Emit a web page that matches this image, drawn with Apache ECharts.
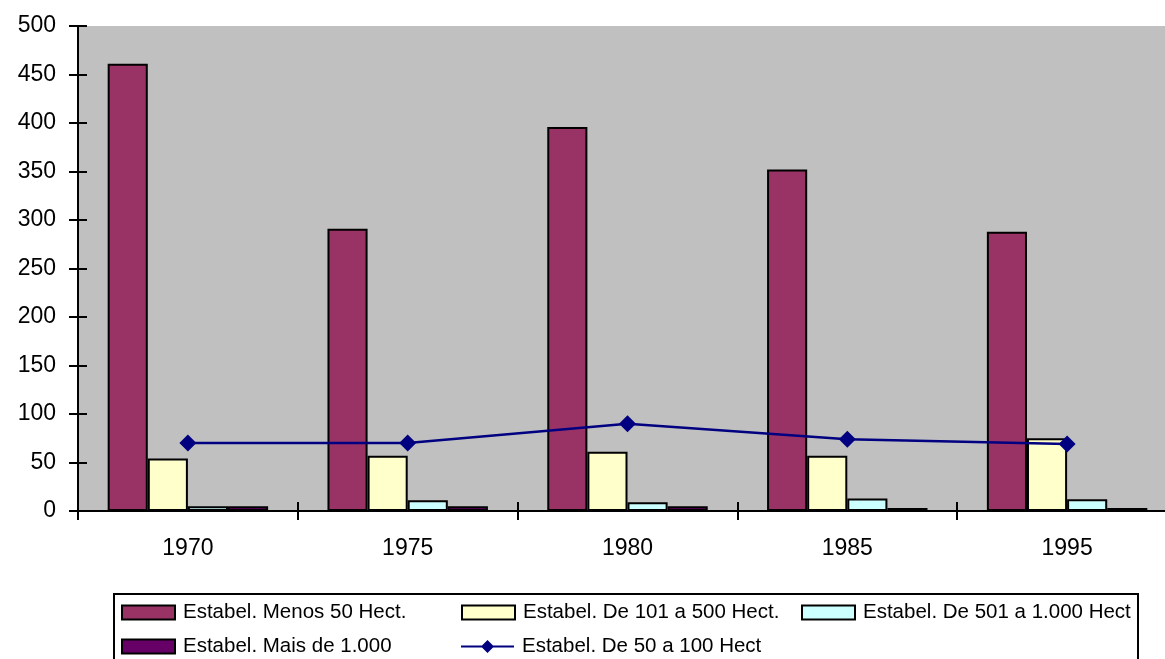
<!DOCTYPE html>
<html>
<head>
<meta charset="utf-8">
<script src="https://cdn.jsdelivr.net/npm/echarts@6/dist/echarts.min.js"></script>
<style>html,body{margin:0;padding:0;background:#fff;overflow:hidden;width:1165px;height:659px}#c{width:1177px;height:659px}</style>
</head>
<body>
<div id="c"></div>
<script>
var categories = ['1970', '1975', '1980', '1985', '1995'];
var menos50 = [461, 291, 396, 352, 288];
var de101a500 = [54, 57, 61, 57, 75];
var de501a1000 = [5, 11, 9, 13, 12];
var mais1000 = [5, 5, 5, 3, 3];
var de50a100 = [70, 70, 90, 74, 69];
var yTicks = [0, 50, 100, 150, 200, 250, 300, 350, 400, 450, 500];

var names = ['Estabel. Menos 50 Hect.', 'Estabel. De 101 a 500 Hect.', 'Estabel. De 501 a 1.000 Hect', 'Estabel. Mais de 1.000', 'Estabel. De 50 a 100 Hect'];
var font = 'Arial, "Liberation Sans", sans-serif';
var lineIcon = 'path://M0,6 L53,6 L53,8 L0,8 Z M20,7 L26.5,0.5 L33,7 L26.5,13.5 Z';

var chart = echarts.init(document.getElementById('c'));
function bar(name, data, color) {
  return {
    name: name, type: 'bar', data: data, barGap: '0%', barCategoryGap: '27%',
    itemStyle: { color: color, borderColor: '#000', borderWidth: 2 },
    emphasis: { disabled: true }
  };
}
var legPos = [[121, 602], [461, 602], [801, 602], [121, 636], [461, 636]];
var legends = names.map(function (n, i) {
  return {
    data: [{ name: n, icon: i < 4 ? 'rect' : lineIcon }], left: legPos[i][0], top: legPos[i][1], orient: 'horizontal',
    itemWidth: 53, itemHeight: 14, itemGap: 0, padding: 0, selectedMode: false,
    textStyle: { fontFamily: font, fontSize: 20.5, color: '#000', padding: [0, 0, 0, 3] },
    itemStyle: { borderColor: '#000', borderWidth: 2 }
  };
});
legends[4].itemStyle = { color: '#000080', borderWidth: 0 };

chart.setOption({
  animation: false,
  backgroundColor: '#fff',
  graphic: [{ type: 'rect', shape: { x: 114, y: 594, width: 1024, height: 90 }, style: { fill: '#fff', stroke: '#000', lineWidth: 2 }, z: -1 }],
  legend: legends,
  grid: { left: 78, top: 26, right: 0, bottom: 148, show: true, backgroundColor: '#C0C0C0', borderWidth: 0 },
  xAxis: [{
    type: 'category', data: categories, boundaryGap: true,
    axisLine: { lineStyle: { color: '#000', width: 2 } },
    axisTick: { show: true, length: 9, lineStyle: { color: '#000', width: 2 } },
    axisLabel: { fontFamily: font, fontSize: 23, color: '#000', margin: 26 },
    splitLine: { show: false }
  }, {
    type: 'category', data: categories, position: 'bottom', boundaryGap: true,
    axisLine: { show: false },
    axisTick: { show: true, inside: true, length: 9, lineStyle: { color: '#000', width: 2 } },
    axisLabel: { show: false }
  }],
  yAxis: [{
    type: 'value', min: 0, max: 500, interval: 50,
    axisLine: { show: true, lineStyle: { color: '#000', width: 2 } },
    axisTick: { show: true, length: 9, lineStyle: { color: '#000', width: 2 } },
    axisLabel: { fontFamily: font, fontSize: 23, color: '#000', margin: 22,
      formatter: function (v) { return yTicks.indexOf(v) >= 0 ? String(v) : ''; } },
    splitLine: { show: false }
  }, {
    type: 'value', min: 0, max: 500, interval: 50, position: 'left',
    axisLine: { show: false },
    axisTick: { show: true, inside: true, length: 9, lineStyle: { color: '#000', width: 2 } },
    axisLabel: { show: false }, splitLine: { show: false }
  }],
  series: [
    bar(names[0], menos50, '#993366'),
    bar(names[1], de101a500, '#FFFFCC'),
    bar(names[2], de501a1000, '#CCFFFF'),
    bar(names[3], mais1000, '#660066'),
    {
      name: names[4], type: 'line', data: de50a100, symbol: 'diamond', symbolSize: 17,
      lineStyle: { color: '#000080', width: 2.5 }, itemStyle: { color: '#000080' }, z: 5,
      emphasis: { disabled: true }
    }
  ]
});
</script>
</body>
</html>
